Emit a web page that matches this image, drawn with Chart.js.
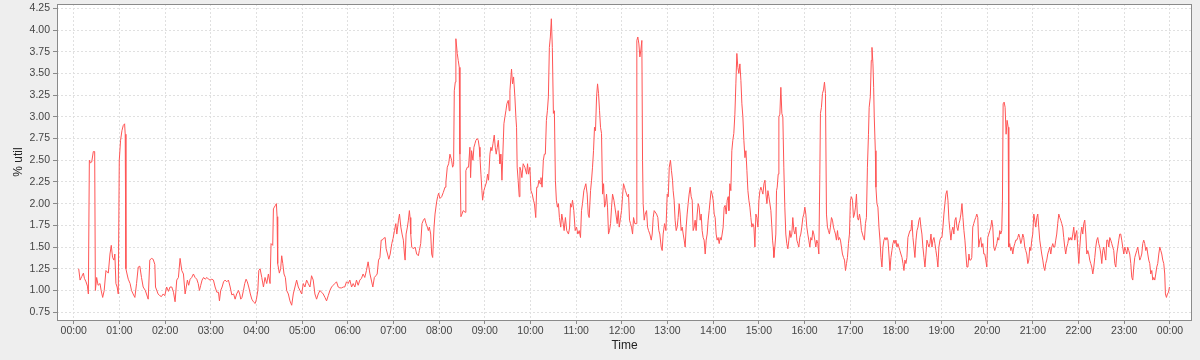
<!DOCTYPE html>
<html>
<head>
<meta charset="utf-8">
<script src="https://cdn.jsdelivr.net/npm/chart.js@4.4.1/dist/chart.umd.min.js"></script>
<style>
  html, body { margin: 0; padding: 0; background: #eeeeee; }
  #wrap { width: 1200px; height: 360px; }
</style>
</head>
<body>
<div id="wrap"><canvas id="grafica" width="1200" height="360"></canvas></div>
<script>
// etiquetas del eje X (una por hora)
const timeLabels = ["00:00","01:00","02:00","03:00","04:00","05:00","06:00","07:00","08:00","09:00",
  "10:00","11:00","12:00","13:00","14:00","15:00","16:00","17:00","18:00","19:00",
  "20:00","21:00","22:00","23:00","00:00"];

// minutos desde las 00:00 de cada muestra
const minutes = [
  // 00:00 - 02:00
  6.5, 8.3, 10.5, 12.7, 14, 16.1, 18, 19.2, 20.5, 22,
  23.6, 25.7, 27.5, 28.4, 30.1, 32, 34.5, 36, 38, 40,
  42.3, 45.4, 47.6, 49.3, 51, 52.8, 54, 55.4, 57, 58.5,
  59.8, 61.5, 63.3, 65, 66.8, 67.6, 68.5, 70, 71.6, 74,
  75.9, 78, 80.3, 82.5, 84.7, 86.8, 89, 91.2, 94, 97.8,
  99.9, 102, 104.3, 106.5, 107.4, 110.8, 113, 115.2, 117.5, 119.6,
  122,
  // 02:00 - 04:00
  124.4, 126.5, 128.8, 131, 133.1, 135.3, 137.5, 139.7, 141.9, 144.1,
  146.3, 149.3, 151, 152.9, 155, 157.2, 159.4, 161.6, 163.5, 165.1,
  166.8, 168.6, 170.6, 172.6, 175, 177, 179, 181.3, 183.5, 185.7,
  188, 190.1, 191.4, 193, 194.9, 196.8, 198.8, 201, 203.2, 205.5,
  207.6, 210, 212, 214, 216.4, 218, 219.4, 221, 222.9, 224.6,
  226.4, 228, 229.9, 232, 233.9, 236, 238.3, 240, 241.8, 243.1,
  // 04:00 - 06:30
  244.8, 247, 249.2, 251.3, 253.5, 255.7, 257.9, 259.2, 261.4, 262.3,
  263.5, 264.9, 266.2, 267.1, 267.9, 270.1, 271.8, 273.2, 274.6, 276.2,
  278, 279.7, 281.9, 284, 286.3, 288.4, 290.6, 292.8, 295, 297.2,
  299.4, 301.5, 303.7, 305.9, 308, 310.3, 312.4, 314.6, 316.8, 319,
  321.2, 323.4, 325.5, 327.7, 330, 332.1, 334.3, 336.5, 338.7, 340.8,
  343, 345.2, 347.4, 349.6, 352, 354, 356, 358.3, 360.5, 362.7,
  365, 367.1, 369.3, 371.4, 373.6, 375.8, 378, 380.1, 382.3, 384.5,
  386.7, 388.9,
  // 06:30 - 08:40
  392.9, 394.9, 396.9, 398.6, 400.4, 402.2, 403.9, 405.3, 406.9, 409.1,
  410.4, 412.2, 413.9, 415.7, 417.8, 419.5, 421.3, 423.1, 424.4, 426.6,
  427.9, 429.7, 431.3, 433, 434.4, 435.3, 436.6, 438.3, 439.6, 440.9,
  441.8, 442.7, 444, 446.2, 448.4, 450.5, 452.7, 454, 455.8, 457.5,
  459.3, 461, 462.8, 464.5, 465.8, 467.1, 468.9, 470.2, 471.5, 473.3,
  474.6, 476.7, 478, 479.3, 481.1, 483.3, 485.5, 487.7, 488.9, 490.7,
  492.5, 494.2, 496.4, 497.7, 499, 499.9, 501.2, 502, 503.8, 505.1,
  506.4, 507.3, 508.6, 510, 511.6, 514.3, 515.1, 517, 518.6, 520.4,
  // 08:40 - 10:50
  521.3, 522.6, 524.4, 525.7, 527, 528.3, 530, 531.4, 532.7, 533.6,
  534.9, 536.2, 537.1, 538.8, 540.1, 542.3, 543.6, 544.9, 546.7, 548,
  549.3, 550.7, 552.4, 553.7, 555, 556.4, 557.7, 559, 559.9, 561.2,
  562.5, 563.4, 565.1, 566.4, 567.7, 569, 570.8, 572.1, 573, 574.3,
  575.1, 576.4, 577.8, 579.5, 580.8, 581.7, 582.5, 583.8, 585.2, 586.1,
  587.4, 588.7, 590.4, 592.6, 594.9, 596.1, 597.4, 599.2, 600.6, 602.3,
  603.9, 605.2, 606.9, 608.2, 609.5, 611.2, 612.5, 613.8, 615.2, 616.9,
  618.2, 619.5, 620.9, 622.2, 623.5, 624.8, 626.1, 627.4, 628.7, 630.1,
  631.4, 632.7, 634, 635.4, 636.7, 638, 639.7, 641.1, 642.4, 644.2,
  645.9, 647.6, 649.9,
  // 10:50 - 13:00
  651.3, 652.6, 653.9, 655.2, 656.9, 658.7, 660.5, 662.2, 664, 665.7,
  667, 668.3, 670.1, 671.4, 672.7, 674.5, 675.8, 677.1, 678.9, 680.2,
  681.5, 682.8, 684.1, 685.4, 686.8, 688.1, 689.4, 690.7, 692, 693.3,
  694.7, 696, 697.3, 698.6, 699.9, 701.2, 702.5, 703.8, 705.2, 706.5,
  707.8, 709.6, 710.9, 712.2, 713.9, 715.2, 716.6, 718.3, 719.6, 720.9,
  722.2, 723.5, 724.8, 726.2, 727.5, 728.8, 730.1, 731.4, 732.7, 734.1,
  735.4, 737.1, 738.9, 739.7, 741, 742.4, 743.7, 745, 746.3, 747.2,
  748, 749.4, 750.7, 752.5, 753.8, 755.1, 756.8, 758.6, 759.9, 761.2,
  762.5, 763.4, 765.6, 767.3, 768.6, 769.9, 771.7, 773, 774.3, 776.1,
  777.9, 779.6, 781, 782.3,
  // 13:00 - 15:15
  783.9, 785.2, 786.6, 787.4, 788.7, 790, 791.4, 792.7, 794, 795.3,
  796.6, 797.9, 799.3, 800.6, 801.9, 803.2, 804.5, 805.8, 807.1, 808.4,
  809.8, 811.1, 812.4, 813.7, 815, 816.3, 817.6, 819, 820.3, 821.6,
  822.9, 824.2, 825.5, 826.8, 828.1, 829.5, 830.8, 832.1, 833.4, 834.7,
  836, 837.3, 838.6, 840, 841.3, 842.6, 843.9, 845.2, 846.5, 847.9,
  849.2, 850.5, 851.8, 853.1, 854.4, 855.7, 857.1, 858.4, 859.7, 860.6,
  861.9, 863.2, 864.5, 865.8, 867.1, 868.5, 869.8, 871.1, 872.4, 873.7,
  875.1, 876.4, 877.7, 879, 880.3, 881.7, 883, 884.3, 885.6, 886.9,
  888.2, 889.5, 890.8, 892.2, 893.5, 894.8, 896.1, 897.4, 898.8, 900.1,
  901.4, 902.7, 904, 905.3, 906.7, 908, 909.3, 910.6, 911.9, 913.2,
  914.5,
  // 15:15 - 17:25
  915.8, 917.1, 918, 918.9, 919.7, 921, 922.3, 923.2, 924.1, 925.4,
  926.3, 927.6, 928.9, 930.2, 931.5, 932.8, 934.1, 935.4, 936.7, 938.1,
  939.4, 940.7, 942, 943.3, 944.6, 946, 947.3, 948.6, 949.9, 951.2,
  952.5, 953.8, 955.1, 956.4, 957.8, 959.1, 960.4, 961.7, 963, 964.3,
  965.6, 967, 968.3, 969.6, 970.9, 972.2, 973.5, 974.8, 976.1, 977.5,
  978.8, 980.1, 980.9, 982.2, 983.6, 984.9, 986.2, 987.5, 988.8, 990.1,
  991.4, 992.7, 994, 995.4, 996.7, 998, 999.3, 1000.6, 1001.9, 1003.3,
  1004.6, 1005.9, 1007.2, 1008.5, 1009.8, 1011.2, 1012.5, 1013.8, 1015.1, 1016.4,
  1017.7, 1019, 1020.3, 1021.6, 1023, 1024.3, 1025.6, 1026.9, 1028.2, 1029.5,
  1030.8, 1032.2, 1033.5, 1034.8, 1036.1, 1037.4, 1038.7, 1040, 1041.3, 1042.6,
  1044, 1044.9,
  // 17:25 - 19:35
  1046.4, 1047.7, 1048.6, 1049.9, 1050.8, 1051.6, 1053, 1053.8, 1055.1, 1056.4,
  1057.8, 1059.1, 1060.4, 1061.7, 1063, 1064.3, 1065.6, 1067, 1068.3, 1069.6,
  1070.9, 1072.2, 1073.5, 1074.8, 1076.1, 1077.5, 1078.8, 1080.1, 1081.4, 1082.7,
  1084, 1085.3, 1086.6, 1088, 1089.3, 1090.6, 1091.9, 1093.2, 1094.5, 1095.8,
  1097.1, 1098.5, 1099.8, 1101.1, 1102.4, 1103.7, 1105, 1106.4, 1107.7, 1109,
  1110.3, 1111.6, 1112.9, 1114.2, 1115.5, 1116.9, 1118.2, 1119.5, 1120.8, 1122.1,
  1123.4, 1124.7, 1126.1, 1127.4, 1128.7, 1130, 1131.3, 1132.6, 1133.9, 1135.2,
  1136.5, 1137.9, 1139.2, 1140.5, 1141.8, 1143.1, 1144.4, 1145.7, 1147.1, 1148.4,
  1149.7, 1151, 1152.3, 1153.6, 1154.9, 1156.2, 1157.6, 1158.9, 1160.2, 1161.5,
  1162.8, 1164.1, 1165.4, 1166.8, 1168.1, 1169.4, 1170.7, 1172, 1173.3, 1174.6,
  1176,
  // 19:35 - 21:50
  1177, 1178.4, 1179.7, 1181, 1182.3, 1183.6, 1184.9, 1186.3, 1187.6, 1188.9,
  1190.2, 1191.5, 1192.8, 1194.2, 1195.5, 1196.8, 1198.1, 1199.4, 1200.7, 1202,
  1203.4, 1204.7, 1206, 1207.3, 1208.6, 1209.9, 1211.3, 1212.6, 1213.9, 1215.2,
  1216.5, 1217.8, 1219.1, 1220, 1220.9, 1222.2, 1223.5, 1224.8, 1226.1, 1227.5,
  1228.3, 1229.6, 1230.9, 1232.2, 1233.6, 1234.9, 1236.2, 1237.5, 1238.8, 1240.1,
  1241.4, 1242.7, 1244.1, 1245.4, 1246.7, 1248, 1249.3, 1250.6, 1251.9, 1253.3,
  1254.6, 1255.9, 1257.2, 1258.5, 1259.8, 1261.2, 1262.5, 1263.8, 1265.1, 1266.4,
  1267.7, 1269, 1270.3, 1271.6, 1273, 1274.3, 1275.6, 1276.9, 1278.2, 1279.5,
  1280.8, 1282.1, 1283.5, 1284.8, 1286.1, 1287.4, 1288.7, 1290, 1291.3, 1292.6,
  1294, 1295.3, 1296.6, 1297.9, 1299.2, 1300.5, 1301.8, 1303.1, 1304.5, 1305.8,
  1307.1,
  // 21:50 - 24:00
  1308.4, 1309.8, 1311.1, 1312.4, 1313.7, 1315, 1316.3, 1317.6, 1318.9, 1320.3,
  1321.6, 1322.9, 1324.2, 1325.5, 1326.8, 1328.1, 1329.5, 1330.8, 1332.1, 1333.4,
  1334.7, 1336, 1337.3, 1338.7, 1340, 1341.3, 1342.6, 1343.9, 1345.2, 1346.5,
  1347.8, 1349.2, 1350.5, 1351.8, 1353.1, 1354.4, 1355.7, 1357.1, 1358.4, 1359.7,
  1361, 1362.3, 1363.6, 1364.9, 1366.2, 1367.6, 1368.9, 1370.2, 1371.5, 1372.8,
  1374.1, 1375.4, 1376.7, 1378, 1379.4, 1380.7, 1382, 1383.3, 1384.6, 1385.9,
  1387.2, 1388.6, 1389.9, 1391.2, 1392.5, 1393.8, 1395.1, 1396.4, 1397.7, 1399.1,
  1400.4, 1401.7, 1403, 1404.3, 1405.6, 1406.9, 1408.3, 1409.6, 1410.9, 1412.2,
  1413.5, 1414.8, 1416.2, 1417.5, 1418.8, 1420.1, 1421.4, 1422.7, 1424, 1425.4,
  1426.7, 1428, 1429.3, 1430.6, 1431.9, 1433.2, 1434.1, 1435.4, 1436.7, 1438.1,
  1439.4
];

// % de utilización en cada muestra
const util = [
  // 00:00 - 02:00
  1.25, 1.12, 1.16, 1.20, 1.14, 1.10, 1.05, 0.96, 2.50, 2.47,
  2.48, 2.60, 2.60, 1.00, 1.15, 1.06, 1.08, 1.00, 0.92, 1.00,
  1.23, 1.20, 1.42, 1.52, 1.38, 1.35, 1.42, 1.08, 1.04, 0.96,
  2.50, 2.73, 2.84, 2.90, 2.92, 2.80, 1.25, 1.19, 1.13, 1.08,
  1.00, 0.96, 0.92, 1.08, 1.27, 1.28, 1.15, 1.04, 1.00, 0.90,
  1.35, 1.37, 1.36, 1.30, 1.04, 0.96, 0.94, 0.93, 0.96, 0.94,
  1.04,
  // 02:00 - 04:00
  0.99, 1.04, 1.04, 0.98, 0.87, 1.12, 1.15, 1.37, 1.23, 1.19,
  0.96, 1.12, 1.06, 1.13, 1.15, 1.19, 1.15, 1.13, 1.08, 1.00,
  1.06, 1.12, 1.15, 1.13, 1.15, 1.13, 1.12, 1.13, 1.12, 1.04,
  0.98, 0.98, 0.88, 1.00, 1.04, 1.10, 1.12, 1.10, 1.12, 1.04,
  0.95, 0.96, 0.90, 0.96, 1.00, 0.96, 0.90, 0.92, 1.00, 1.08,
  1.13, 1.10, 1.04, 0.96, 0.90, 0.87, 0.85, 0.90, 1.00, 1.23,
  // 04:00 - 06:30
  1.25, 1.15, 1.04, 1.15, 1.08, 1.19, 1.08, 1.54, 1.52, 1.94,
  1.96, 1.98, 2.00, 1.85, 1.31, 1.20, 1.25, 1.40, 1.31, 1.19,
  1.15, 1.00, 0.96, 0.88, 0.83, 0.96, 1.04, 1.12, 1.04, 1.00,
  0.96, 1.08, 1.04, 1.12, 1.08, 1.04, 1.17, 1.12, 0.96, 0.90,
  0.96, 1.00, 0.98, 0.96, 0.92, 0.88, 0.94, 1.00, 1.04, 1.06,
  1.08, 1.10, 1.04, 1.03, 1.03, 1.04, 1.04, 1.10, 1.08, 1.12,
  1.04, 1.08, 1.04, 1.12, 1.06, 1.12, 1.14, 1.19, 1.15, 1.23,
  1.33, 1.20,
  // 06:30 - 08:40
  1.04, 1.15, 1.17, 1.19, 1.35, 1.38, 1.58, 1.58, 1.60, 1.61,
  1.48, 1.42, 1.36, 1.42, 1.54, 1.60, 1.69, 1.77, 1.65, 1.81,
  1.88, 1.73, 1.65, 1.58, 1.42, 1.35, 1.65, 1.73, 1.81, 1.92,
  1.84, 1.65, 1.50, 1.48, 1.50, 1.42, 1.40, 1.46, 1.54, 1.77,
  1.81, 1.83, 1.77, 1.73, 1.69, 1.73, 1.65, 1.42, 1.38, 1.73,
  1.88, 2.02, 2.08, 2.12, 2.06, 2.08, 2.13, 2.19, 2.25, 2.42,
  2.46, 2.57, 2.50, 2.42, 2.45, 3.30, 3.40, 3.90, 3.73, 3.65,
  3.57, 2.57, 1.85, 1.88, 1.92, 1.90, 2.38, 2.42, 2.42, 2.65,
  // 08:40 - 10:50
  2.30, 2.61, 2.50, 2.65, 2.69, 2.73, 2.75, 2.73, 2.65, 2.54,
  2.34, 2.15, 2.04, 2.15, 2.19, 2.25, 2.34, 2.27, 2.57, 2.65,
  2.61, 2.69, 2.79, 2.65, 2.57, 2.65, 2.73, 2.57, 2.46, 2.57,
  2.27, 2.50, 2.92, 3.00, 3.07, 3.15, 3.19, 3.07, 3.30, 3.46,
  3.55, 3.38, 3.46, 3.23, 3.00, 2.88, 2.42, 2.27, 2.08, 2.42,
  2.38, 2.30, 2.46, 2.42, 2.34, 2.46, 2.34, 2.42, 2.15, 2.11,
  2.04, 2.00, 1.84, 2.19, 2.19, 2.27, 2.23, 2.30, 2.19, 2.50,
  2.57, 2.57, 2.96, 3.07, 3.23, 3.80, 3.92, 4.13, 3.80, 3.04,
  3.07, 2.27, 2.04, 1.96, 2.00, 1.84, 1.73, 1.88, 1.81, 1.69,
  1.84, 1.69, 1.65,
  // 10:50 - 13:00
  1.72, 2.00, 1.96, 2.04, 1.92, 1.69, 1.73, 1.65, 1.69, 1.61,
  1.92, 2.00, 2.15, 2.19, 2.23, 2.11, 1.88, 1.84, 2.15, 2.27,
  2.42, 2.61, 2.88, 2.84, 3.23, 3.38, 3.27, 3.07, 2.88, 2.81,
  2.11, 2.23, 1.96, 2.00, 2.11, 1.96, 1.65, 1.69, 1.77, 1.96,
  2.11, 2.04, 1.96, 1.88, 1.77, 1.92, 1.73, 1.84, 1.92, 2.08,
  2.23, 2.19, 2.15, 2.11, 2.08, 2.11, 1.81, 1.77, 1.73, 1.65,
  1.84, 1.77, 1.77, 3.88, 3.92, 3.84, 3.69, 3.77, 3.88, 2.50,
  2.00, 1.81, 1.88, 1.92, 1.73, 1.69, 1.65, 1.58, 1.65, 1.84,
  1.92, 1.92, 1.88, 1.84, 1.69, 1.65, 1.50, 1.46, 1.65, 1.77,
  1.69, 2.11, 2.08, 2.42,
  // 13:00 - 15:15
  2.50, 2.38, 2.27, 2.15, 2.04, 1.81, 1.69, 1.73, 1.84, 2.00,
  1.88, 1.69, 1.73, 1.65, 1.58, 1.50, 1.73, 1.88, 2.00, 2.11,
  2.19, 2.08, 2.04, 1.69, 1.73, 1.81, 1.69, 1.88, 2.00, 1.96,
  1.81, 1.88, 1.69, 1.61, 1.58, 1.42, 1.58, 1.65, 1.81, 1.92,
  2.04, 2.15, 2.11, 2.04, 1.88, 1.84, 1.65, 1.58, 1.61, 1.54,
  1.61, 1.58, 1.65, 1.73, 1.96, 1.98, 1.88, 2.04, 2.08, 1.92,
  2.23, 2.15, 2.61, 2.73, 2.81, 3.03, 3.38, 3.73, 3.57, 3.50,
  3.61, 3.42, 3.15, 3.00, 2.73, 2.53, 2.61, 2.38, 2.15, 2.04,
  1.96, 1.84, 1.73, 1.77, 1.73, 1.50, 1.88, 1.84, 1.73, 2.04,
  2.15, 2.19, 2.15, 2.11, 2.23, 2.27, 2.11, 2.00, 2.15, 2.08,
  2.00,
  // 15:15 - 17:25
  1.92, 1.73, 1.58, 1.50, 1.38, 1.50, 1.65, 2.15, 2.19, 2.34,
  3.00, 3.03, 3.34, 3.04, 3.00, 2.42, 1.96, 1.65, 1.54, 1.48,
  1.58, 1.69, 1.61, 1.65, 1.84, 1.69, 1.65, 1.73, 1.58, 1.54,
  1.50, 1.61, 1.65, 1.73, 1.84, 1.88, 1.96, 1.88, 1.73, 1.65,
  1.58, 1.50, 1.61, 1.58, 1.69, 1.65, 1.58, 1.50, 1.58, 1.54,
  1.42, 2.34, 3.04, 3.11, 3.27, 3.31, 3.40, 3.27, 1.88, 1.73,
  1.69, 1.65, 1.73, 1.84, 1.81, 1.73, 1.69, 1.65, 1.58, 1.69,
  1.58, 1.61, 1.58, 1.50, 1.42, 1.38, 1.35, 1.23, 1.31, 1.38,
  1.54, 1.65, 2.04, 2.08, 2.04, 1.84, 1.88, 1.96, 2.11, 1.84,
  1.81, 1.88, 1.81, 1.69, 1.65, 1.61, 1.58, 1.77, 1.84, 2.42,
  2.80, 3.11,
  // 17:25 - 19:35
  3.23, 3.65, 3.80, 3.61, 3.34, 3.00, 2.61, 2.19, 2.00, 1.96,
  1.73, 1.58, 1.38, 1.27, 1.50, 1.58, 1.61, 1.58, 1.61, 1.58,
  1.42, 1.23, 1.38, 1.46, 1.54, 1.58, 1.54, 1.58, 1.50, 1.54,
  1.50, 1.46, 1.42, 1.38, 1.31, 1.23, 1.35, 1.31, 1.38, 1.61,
  1.65, 1.69, 1.69, 1.81, 1.61, 1.50, 1.38, 1.58, 1.69, 1.73,
  1.81, 1.84, 1.73, 1.65, 1.50, 1.38, 1.27, 1.42, 1.58, 1.54,
  1.50, 1.54, 1.65, 1.50, 1.58, 1.61, 1.54, 1.46, 1.38, 1.27,
  1.50, 1.58, 1.61, 1.61, 1.73, 1.88, 2.00, 2.11, 2.15, 2.04,
  1.81, 1.69, 1.58, 1.69, 1.73, 1.65, 1.81, 1.84, 1.73, 1.69,
  1.77, 1.81, 1.88, 2.00, 1.84, 1.69, 1.58, 1.42, 1.27, 1.27,
  1.42,
  // 19:35 - 21:50
  1.35, 1.35, 1.38, 1.73, 1.77, 1.81, 1.84, 1.88, 1.84, 1.50,
  1.58, 1.61, 1.50, 1.54, 1.42, 1.42, 1.35, 1.27, 1.61, 1.65,
  1.69, 1.73, 1.81, 1.73, 1.50, 1.46, 1.50, 1.54, 1.61, 1.58,
  1.69, 1.65, 1.69, 2.04, 3.15, 3.17, 3.11, 2.80, 2.96, 2.88,
  1.50, 1.54, 1.46, 1.50, 1.42, 1.50, 1.54, 1.58, 1.58, 1.61,
  1.65, 1.61, 1.54, 1.58, 1.65, 1.61, 1.50, 1.46, 1.42, 1.31,
  1.35, 1.50, 1.46, 1.58, 1.65, 1.88, 1.81, 1.73, 1.84, 1.88,
  1.73, 1.58, 1.50, 1.42, 1.35, 1.27, 1.23, 1.31, 1.35, 1.42,
  1.46, 1.50, 1.42, 1.50, 1.54, 1.50, 1.50, 1.58, 1.65, 1.77,
  1.88, 1.84, 1.81, 1.77, 1.73, 1.61, 1.50, 1.42, 1.50, 1.54,
  1.61,
  // 21:50 - 24:00
  1.58, 1.61, 1.58, 1.65, 1.73, 1.58, 1.65, 1.69, 1.50, 1.31,
  1.50, 1.65, 1.73, 1.65, 1.77, 1.81, 1.65, 1.42, 1.46, 1.42,
  1.35, 1.31, 1.27, 1.19, 1.27, 1.38, 1.50, 1.58, 1.61, 1.54,
  1.50, 1.42, 1.31, 1.46, 1.50, 1.42, 1.35, 1.58, 1.58, 1.50,
  1.61, 1.58, 1.54, 1.50, 1.46, 1.31, 1.27, 1.42, 1.50, 1.58,
  1.65, 1.65, 1.58, 1.50, 1.42, 1.50, 1.46, 1.42, 1.50, 1.46,
  1.42, 1.31, 1.15, 1.12, 1.27, 1.38, 1.42, 1.46, 1.50, 1.42,
  1.35, 1.38, 1.42, 1.54, 1.58, 1.54, 1.46, 1.50, 1.42, 1.35,
  1.31, 1.19, 1.23, 1.12, 1.15, 1.12, 1.19, 1.27, 1.31, 1.42,
  1.50, 1.46, 1.42, 1.35, 1.31, 1.19, 0.96, 0.92, 0.96, 0.98,
  1.04
];

const fontFamily = "'Liberation Sans', Arial, sans-serif";

// fondo gris, área de trazado blanca y marco
const plotFrame = {
  id: 'plotFrame',
  beforeDraw(chart) {
    const { ctx, chartArea: a } = chart;
    ctx.save();
    ctx.fillStyle = '#eeeeee';
    ctx.fillRect(0, 0, chart.width, chart.height);
    ctx.fillStyle = '#ffffff';
    ctx.fillRect(a.left, a.top, a.right - a.left, a.bottom - a.top);
    ctx.restore();
  },
  afterDraw(chart) {
    const { ctx, chartArea: a } = chart;
    ctx.save();
    ctx.strokeStyle = '#8a8a8a';
    ctx.lineWidth = 1;
    ctx.strokeRect(a.left + 0.5, a.top + 0.5, a.right - a.left - 1, a.bottom - a.top);
    ctx.restore();
  }
};

const n = Math.min(minutes.length, util.length);
const puntos = [];
for (let i = 0; i < n; i++) puntos.push({ x: minutes[i], y: util[i] });

new Chart(document.getElementById('grafica'), {
  type: 'line',
  data: {
    datasets: [{
      label: '% util',
      data: puntos,
      borderColor: '#ff5555',
      borderWidth: 1,
      pointRadius: 0,
      tension: 0,
      fill: false
    }]
  },
  options: {
    responsive: false,
    animation: false,
    events: [],
    layout: { padding: { left: 0, right: 8, top: 4, bottom: 0 } },
    plugins: {
      legend: { display: false },
      tooltip: { enabled: false }
    },
    scales: {
      x: {
        type: 'linear',
        min: -22,
        max: 1469,
        afterBuildTicks: scale => {
          scale.ticks = timeLabels.map((t, i) => ({ value: i * 60 }));
        },
        afterFit: scale => {
          scale.height = 40;
          scale.paddingLeft = 0;
          scale.paddingRight = 0;
        },
        ticks: {
          autoSkip: false,
          maxRotation: 0,
          padding: 1,
          color: '#444444',
          font: { family: fontFamily, size: 10.5 },
          callback: (value, index) => timeLabels[index]
        },
        grid: {
          color: '#e0e0e0',
          lineWidth: 1,
          drawTicks: true,
          tickLength: 4,
          tickColor: '#8a8a8a',
          tickBorderDash: []
        },
        border: { display: false, dash: [2, 2] },
        title: {
          display: true,
          text: 'Time',
          color: '#222222',
          font: { family: fontFamily, size: 12 },
          padding: { top: 0, bottom: 7 }
        }
      },
      y: {
        min: 0.66,
        max: 4.30,
        afterFit: scale => {
          scale.width = 57;
          scale.paddingTop = 0;
          scale.paddingBottom = 0;
        },
        ticks: {
          stepSize: 0.25,
          includeBounds: false,
          padding: 3,
          color: '#444444',
          font: { family: fontFamily, size: 10.5 },
          callback: v => v.toFixed(2)
        },
        grid: {
          color: '#e0e0e0',
          lineWidth: 1,
          drawTicks: true,
          tickLength: 4,
          tickColor: '#8a8a8a',
          tickBorderDash: []
        },
        border: { display: false, dash: [2, 2] },
        title: {
          display: true,
          text: '% util',
          color: '#222222',
          font: { family: fontFamily, size: 12 },
          padding: { top: 11, bottom: 0 }
        }
      }
    }
  },
  plugins: [plotFrame]
});
</script>
</body>
</html>
